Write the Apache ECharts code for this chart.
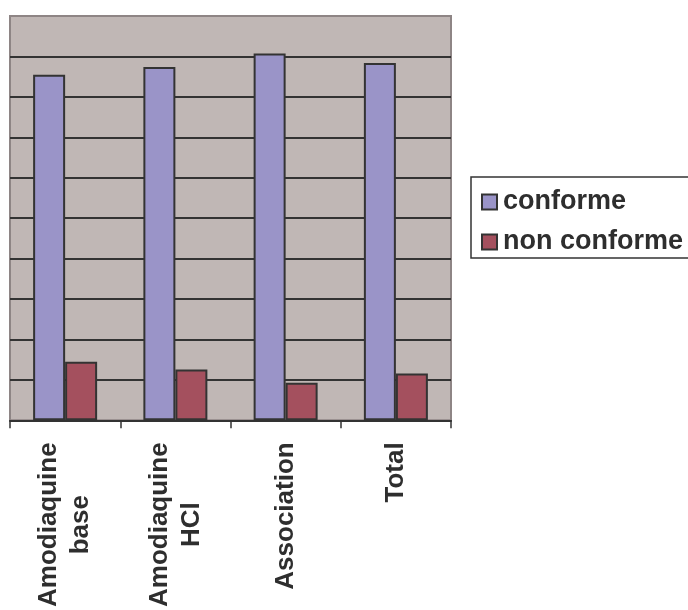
<!DOCTYPE html>
<html>
<head>
<meta charset="utf-8">
<script src="https://cdn.jsdelivr.net/npm/echarts@6/dist/echarts.min.js"></script>
<style>
  html, body { margin: 0; padding: 0; background: #ffffff; }
  #chart { width: 688px; height: 610px; }
</style>
</head>
<body>
<div id="chart"></div>
<script>
// Share of conforming / non-conforming samples per product (%)
const categories = ['Amodiaquine\nbase', 'Amodiaquine\nHCl', 'Association', 'Total'];
const conforme = [85.5, 87.4, 90.7, 88.4];
const nonConforme = [14.5, 12.6, 9.3, 11.6];
const seriesNames = ['conforme', 'non conforme'];

const FONT = '"Liberation Sans", Arial, Helvetica, sans-serif';
const chart = echarts.init(document.getElementById('chart'), null, { renderer: 'canvas' });

chart.setOption({
  animation: false,
  backgroundColor: '#ffffff',
  textStyle: { fontFamily: FONT },
  grid: {
    left: 10, top: 16, width: 441, height: 405,
    show: true,
    backgroundColor: '#c0b7b5',
    borderColor: '#8e8585',
    borderWidth: 2
  },
  legend: {
    orient: 'vertical',
    left: 471,
    top: 177,
    padding: [10, 14, 1, 10],
    itemGap: 10,
    itemWidth: 15,
    itemHeight: 15,
    borderColor: '#333333',
    borderWidth: 1.5,
    icon: 'rect',
    data: seriesNames,
    textStyle: {
      fontFamily: FONT,
      fontSize: 27,
      fontWeight: 'bold',
      color: '#2e2e2e',
      lineHeight: 30,
      padding: [0, 0, 0, 1]
    }
  },
  xAxis: {
    type: 'category',
    data: categories,
    axisLine: { lineStyle: { color: '#333333', width: 2 } },
    axisTick: { show: true, length: 8, lineStyle: { color: '#333333', width: 1.5 } },
    axisLabel: {
      rotate: 90,
      margin: 22,
      interval: 0,
      formatter: function (v) {
        return v.split('\n').map(function (s) { return '{c|' + s + '}'; }).join('\n');
      },
      rich: {
        c: {
          align: 'center',
          fontFamily: FONT,
          fontSize: 26,
          fontWeight: 'bold',
          color: '#2e2e2e',
          lineHeight: 32
        }
      }
    }
  },
  yAxis: {
    type: 'value',
    min: 0,
    max: 100,
    interval: 10,
    axisLine: { show: false },
    axisTick: { show: false },
    axisLabel: { show: false },
    splitLine: {
      show: true,
      showMinLine: false,
      showMaxLine: false,
      lineStyle: { color: '#333333', width: 2 }
    }
  },
  series: [
    {
      name: seriesNames[0],
      type: 'bar',
      data: conforme,
      barWidth: 32,
      barGap: '0%',
      itemStyle: { color: '#9a94c8', borderColor: '#333333', borderWidth: 2 }
    },
    {
      name: seriesNames[1],
      type: 'bar',
      data: nonConforme,
      barWidth: 32,
      barGap: '0%',
      itemStyle: { color: '#a4505e', borderColor: '#333333', borderWidth: 2 }
    }
  ]
});
</script>
</body>
</html>
